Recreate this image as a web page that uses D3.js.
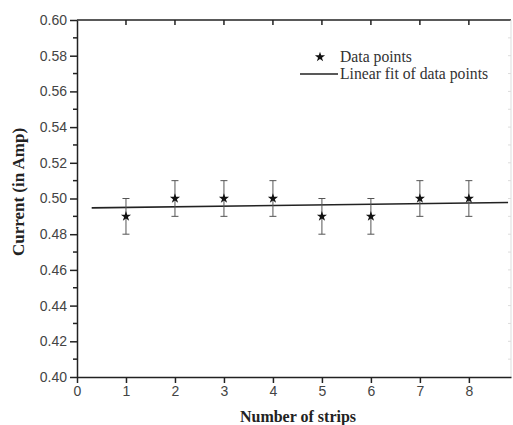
<!DOCTYPE html>
<head>
  <meta charset="utf-8">
  <script src="https://cdnjs.cloudflare.com/ajax/libs/d3/7.8.5/d3.min.js"></script>
</head>
<style>
  body { margin: 0; background: #fff; }
  .tick text { font-family: "Liberation Sans", Arial, sans-serif; font-size: 14px; fill: #444; }
  .axis path, .axis line { stroke: #222; }
  .title { font-family: "Liberation Serif", "Times New Roman", serif; font-weight: bold; font-size: 16px; fill: #222; }
  .legend text { font-family: "Liberation Serif", "Times New Roman", serif; font-size: 15.7px; fill: #333; }
</style>
<body>
<svg width="513" height="425" class="chart"></svg>
<script>
// data
let strips = [1, 2, 3, 4, 5, 6, 7, 8];
let current = [0.49, 0.50, 0.50, 0.50, 0.49, 0.49, 0.50, 0.50];
let errors = [0.01, 0.01, 0.01, 0.01, 0.01, 0.01, 0.01, 0.01];
let xTicks = [0, 1, 2, 3, 4, 5, 6, 7, 8];
let yTicks = [0.40, 0.42, 0.44, 0.46, 0.48, 0.50, 0.52, 0.54, 0.56, 0.58, 0.60];
let fitRange = [0.3, 8.8];

let svg = d3.select(".chart");
let margin = {top: 20, left: 77},
    width = 434, height = 357;

let x = d3.scaleLinear().domain([0, 8.86]).range([0, width]);
let y = d3.scaleLinear().domain([0.40, 0.60]).range([height, 0]);

let g = svg.append("g").attr("transform", "translate(" + margin.left + "," + margin.top + ")");

// least squares fit
let mx = d3.mean(strips), my = d3.mean(current);
let slope = d3.sum(strips, (d, i) => (d - mx) * (current[i] - my)) / d3.sum(strips, d => (d - mx) * (d - mx));
let icpt = my - slope * mx;

// frame: top and faint right
g.append("line").attr("x1", 0).attr("x2", width).attr("y1", 0).attr("y2", 0)
  .attr("stroke", "#222").attr("stroke-width", 1.5);
g.append("line").attr("x1", width).attr("x2", width).attr("y1", 0).attr("y2", height)
  .attr("stroke", "#ddd").attr("stroke-width", 1);

// top ticks (inward)
g.selectAll(".ttick").data(xTicks.slice(1)).enter().append("line")
  .attr("x1", d => x(d)).attr("x2", d => x(d)).attr("y1", 0).attr("y2", 5)
  .attr("stroke", "#222").attr("stroke-width", 1.5);
// right faint ticks
g.selectAll(".rtick").data(d3.range(0.41, 0.6, 0.01)).enter().append("line")
  .attr("x1", width - 3).attr("x2", width).attr("y1", d => y(d)).attr("y2", d => y(d))
  .attr("stroke", "#ddd");

// y minor ticks
g.selectAll(".ymin").data(d3.range(0.41, 0.6, 0.02)).enter().append("line")
  .attr("x1", -4).attr("x2", 0).attr("y1", d => y(d)).attr("y2", d => y(d))
  .attr("stroke", "#222").attr("stroke-width", 1.5);

let xAxis = g.append("g").attr("class", "axis")
  .attr("transform", "translate(0," + height + ")")
  .call(d3.axisBottom(x).tickValues(xTicks).tickFormat(d3.format("d")).tickSize(6).tickSizeOuter(0));
xAxis.select(".domain").attr("stroke-width", 1.5);
xAxis.selectAll(".tick line").attr("stroke-width", 1.5);
xAxis.selectAll(".tick text").attr("y", 9).attr("dy", "0.71em");

let yAxis = g.append("g").attr("class", "axis")
  .call(d3.axisLeft(y).tickValues(yTicks).tickFormat(d3.format(".2f")).tickSize(7).tickSizeOuter(0));
yAxis.select(".domain").attr("stroke-width", 1.5);
yAxis.selectAll(".tick line").attr("stroke-width", 1.5);
yAxis.selectAll(".tick text").attr("x", -10);

// fit line
g.append("line")
  .attr("x1", x(fitRange[0])).attr("y1", y(icpt + slope * fitRange[0]))
  .attr("x2", x(fitRange[1])).attr("y2", y(icpt + slope * fitRange[1]))
  .attr("stroke", "#222").attr("stroke-width", 1.6);

// error bars
let eb = g.selectAll(".eb").data(strips).enter().append("g").attr("stroke", "#555").attr("stroke-width", 1);
eb.append("line").attr("x1", d => x(d)).attr("x2", d => x(d))
  .attr("y1", (d, i) => y(current[i] - errors[i])).attr("y2", (d, i) => y(current[i] + errors[i]));
eb.append("line").attr("x1", d => x(d) - 3.5).attr("x2", d => x(d) + 3.5)
  .attr("y1", (d, i) => y(current[i] + errors[i])).attr("y2", (d, i) => y(current[i] + errors[i]));
eb.append("line").attr("x1", d => x(d) - 3.5).attr("x2", d => x(d) + 3.5)
  .attr("y1", (d, i) => y(current[i] - errors[i])).attr("y2", (d, i) => y(current[i] - errors[i]));

// stars
let star = d3.symbol().type(d3.symbolStar).size(32);
g.selectAll(".pt").data(strips).enter().append("path")
  .attr("d", star)
  .attr("transform", (d, i) => "translate(" + x(d) + "," + y(current[i]) + ")")
  .attr("fill", "#111");

// legend
let lg = svg.append("g").attr("class", "legend");
lg.append("path").attr("d", star).attr("transform", "translate(320,57)").attr("fill", "#111");
lg.append("text").attr("x", 340).attr("y", 62).text("Data points");
lg.append("line").attr("x1", 300).attr("x2", 338).attr("y1", 74).attr("y2", 74)
  .attr("stroke", "#222").attr("stroke-width", 1.6);
lg.append("text").attr("x", 340).attr("y", 79).text("Linear fit of data points");

// titles
svg.append("text").attr("class", "title").attr("text-anchor", "middle")
  .attr("x", 298).attr("y", 422).text("Number of strips");
svg.append("text").attr("class", "title").attr("text-anchor", "middle").style("font-size", "17px")
  .attr("transform", "translate(24,192) rotate(-90)").text("Current (in Amp)");
</script>
</body>
